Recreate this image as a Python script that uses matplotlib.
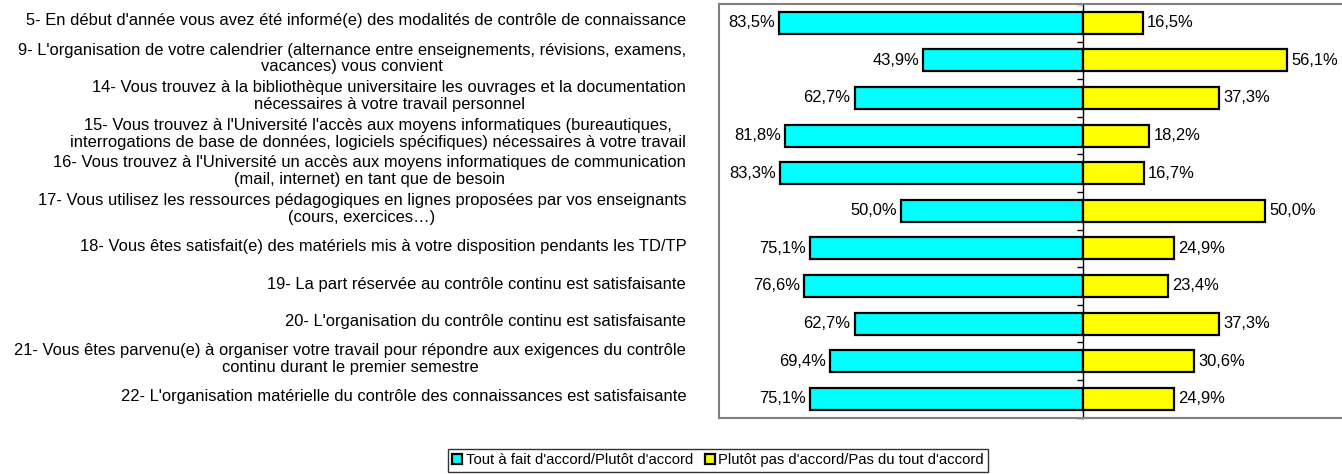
import matplotlib
matplotlib.use("Agg")
import matplotlib.pyplot as plt
import numpy as np

plt.rcParams['font.family'] = ['Liberation Sans', 'DejaVu Sans']

# questions, top to bottom
questions = [
    "5- En début d'année vous avez été informé(e) des modalités de contrôle de connaissance",
    "9- L'organisation de votre calendrier (alternance entre enseignements, révisions, examens,\nvacances) vous convient",
    "14- Vous trouvez à la bibliothèque universitaire les ouvrages et la documentation\nnécessaires à votre travail personnel",
    "15- Vous trouvez à l'Université l'accès aux moyens informatiques (bureautiques,\ninterrogations de base de données, logiciels spécifiques) nécessaires à votre travail",
    "16- Vous trouvez à l'Université un accès aux moyens informatiques de communication\n(mail, internet) en tant que de besoin",
    "17- Vous utilisez les ressources pédagogiques en lignes proposées par vos enseignants\n(cours, exercices…)",
    "18- Vous êtes satisfait(e) des matériels mis à votre disposition pendants les TD/TP",
    "19- La part réservée au contrôle continu est satisfaisante",
    "20- L'organisation du contrôle continu est satisfaisante",
    "21- Vous êtes parvenu(e) à organiser votre travail pour répondre aux exigences du contrôle\ncontinu durant le premier semestre",
    "22- L'organisation matérielle du contrôle des connaissances est satisfaisante",
]
agree = [83.5, 43.9, 62.7, 81.8, 83.3, 50.0, 75.1, 76.6, 62.7, 69.4, 75.1]
disagree = [16.5, 56.1, 37.3, 18.2, 16.7, 50.0, 24.9, 23.4, 37.3, 30.6, 24.9]
series_names = ["Tout à fait d'accord/Plutôt d'accord",
                "Plutôt pas d'accord/Pas du tout d'accord"]

FS = 11.9
LEG_FS = 10.7

def pct(v):
    return f"{v:.1f}%".replace(".", ",")

fig = plt.figure(figsize=(13.42, 4.74), dpi=100)
W, H = 1342, 474
ax = fig.add_axes([719 / W, (H - 417.6) / H, 728 / W, 413.6 / H])

y = np.arange(len(questions))
b1 = ax.barh(y, -np.array(agree), height=0.58, color='#00FFFF',
             edgecolor='black', linewidth=1.6, label=series_names[0])
b2 = ax.barh(y, disagree, height=0.58, color='#FFFF00',
             edgecolor='black', linewidth=1.6, label=series_names[1])
ax.bar_label(b1, labels=[pct(v) for v in agree], padding=3, fontsize=FS)
ax.bar_label(b2, labels=[pct(v) for v in disagree], padding=3, fontsize=FS)

ax.set_xlim(-100, 100)
ax.set_ylim(len(questions) - 0.5, -0.5)
ax.set_xticks([])
ax.set_yticks([])
for s in ['left', 'top', 'bottom', 'right']:
    ax.spines[s].set_color('#808080')
    ax.spines[s].set_linewidth(1.5)

# category labels, right aligned, lines centred
ytr = ax.get_yaxis_transform()
for i, q in enumerate(questions):
    ax.text(-0.045, i - 0.05, q, transform=ytr, ha='right', va='center',
            multialignment='center', fontsize=FS, linespacing=1.15)

# centre axis with small ticks between categories
sec = ax.secondary_yaxis(0.5)
sec.set_alignment('left')
sec.set_yticks(np.arange(len(questions) + 1) - 0.5)
sec.set_yticklabels([])
sec.tick_params(axis='y', direction='out', length=4, width=1, color='black')
sec.spines['left'].set_color('black')
sec.spines['left'].set_linewidth(1)

leg = fig.legend(handles=[b1, b2], loc='upper left',
                 bbox_to_anchor=(448 / W, 1 - 449 / H), ncol=2,
                 fontsize=LEG_FS, frameon=True, fancybox=False,
                 handlelength=0.65, handleheight=0.65, handletextpad=0.25,
                 columnspacing=0.8, borderpad=0.3, borderaxespad=0)
leg.get_frame().set_edgecolor('black')
leg.get_frame().set_linewidth(1)

fig.savefig("out.png", dpi=100)
